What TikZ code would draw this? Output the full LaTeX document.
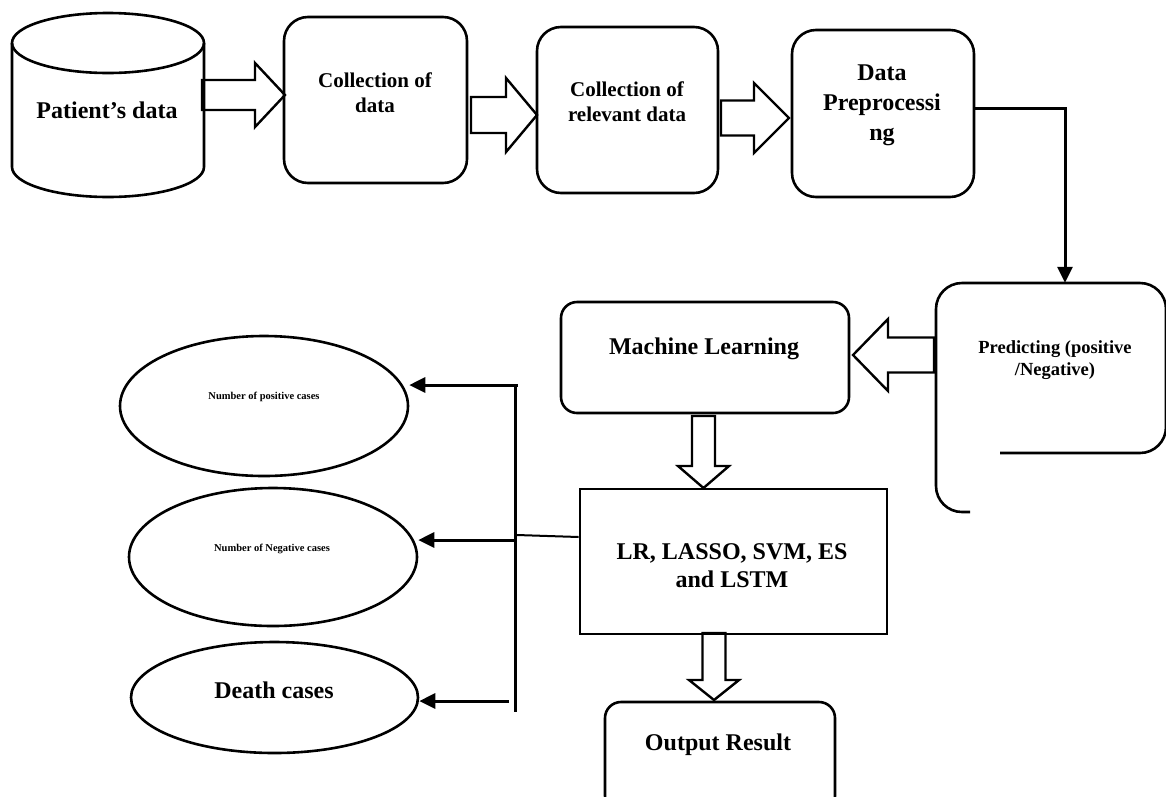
\documentclass[tikz,border=0pt]{standalone}
\usepackage{fontspec}
\setmainfont{Liberation Serif}
\usetikzlibrary{arrows.meta,shapes.geometric}

% hollow block arrows: tail, head base, tip, middle, shaft half width, head half width
\newcommand{\hollowh}[6]{\filldraw[blk] (#1,#4-#5) -- (#2,#4-#5) -- (#2,#4-#6) -- (#3,#4) -- (#2,#4+#6) -- (#2,#4+#5) -- (#1,#4+#5) -- cycle;}
\newcommand{\hollowv}[6]{\filldraw[blk] (#4-#5,#1) -- (#4-#5,#2) -- (#4-#6,#2) -- (#4,#3) -- (#4+#6,#2) -- (#4+#5,#2) -- (#4+#5,#1) -- cycle;}

\begin{document}
\begin{tikzpicture}[x=1pt, y=-1pt,
  box/.style={draw, line width=2.6pt, rounded corners=24pt},
  sqbox/.style={draw, line width=2.6pt},
  oval/.style={draw, ellipse, line width=2.6pt},
  blk/.style={draw, fill=white, line width=2.4pt},
  conn/.style={line width=3pt, -{Triangle[length=16pt,width=15pt]}},
  big/.style={font=\bfseries\fontsize{24}{30}\selectfont, align=center},
  mid/.style={font=\bfseries\fontsize{21}{25}\selectfont, align=center},
  tiny/.style={font=\bfseries\fontsize{10.5}{12}\selectfont}]
\useasboundingbox (0,0) rectangle (1166,796);

% block arrows
\hollowh{202}{255}{285}{95}{15}{32}
\hollowh{471}{506}{537}{115}{18}{37}
\hollowh{721}{754}{789}{118}{17.5}{35}
\hollowh{934}{888}{853}{355}{17.5}{36}
\hollowv{416}{466}{488}{703.5}{11.5}{25.5}
\hollowv{633}{680}{700}{714}{11.5}{25}

% patient's data
\draw[line width=2.6pt] (12,43) -- (12,167) arc[start angle=180, end angle=0, x radius=96, y radius=30] -- (204,43);
\draw[line width=2.6pt] (108,43) ellipse [x radius=96, y radius=30];
\node[big] (pat) at (107,110) {Patient’s data};

% top row
\node[box, minimum width=183, minimum height=166] (col) at (375.5,100) {};
\node[mid] (coltxt) at (375,93) {Collection of\\data};
\node[box, minimum width=181, minimum height=166] (rel) at (627.5,110) {};
\node[mid] (reltxt) at (627,102) {Collection of\\relevant data};
\node[box, minimum width=182, minimum height=167] (pre) at (883,113.5) {};
\node[big] (pretxt) at (882,105) {Data\\Preprocessi\\ng};

% predicting (outline partly cut in the source)
\node[minimum width=230, minimum height=229] (pred) at (1051,397.5) {};
\draw[line width=2.6pt, rounded corners=26pt] (970,512) -- (936,512) -- (936,283) -- (1166,283) -- (1166,453) -- (1000,453);
\node[font=\bfseries\fontsize{18.5}{22}\selectfont, align=center] (predtxt) at (1055,360) {Predicting (positive\\/Negative)};

% models
\node[box, rounded corners=16pt, minimum width=288, minimum height=111] (ml) at (705,357.5) {};
\node[big] (mltxt) at (704,349) {Machine Learning};
\node[sqbox, minimum width=307, minimum height=145] (lr) at (733.5,561.5) {};
\node[big, font=\bfseries\fontsize{24}{28}\selectfont] (lrtxt) at (732,566) {LR, LASSO, SVM, ES\\and LSTM};
\node[box, rounded corners=16pt, minimum width=230, minimum height=110] (out) at (720,757) {};
\node[big] (outtxt) at (718,745) {Output Result};

% outcomes
\node[oval, minimum width=288, minimum height=140] (pos) at (264,406) {};
\node[tiny] (postxt) at (264,397) {Number of positive cases};
\node[oval, minimum width=288, minimum height=138] (neg) at (273,557) {};
\node[tiny] (negtxt) at (272,549) {Number of Negative cases};
\node[oval, minimum width=287, minimum height=111] (dea) at (274.5,697.5) {};
\node[big] (deatxt) at (274,690) {Death cases};

% connectors
\coordinate (bend) at (1065,108);
\draw[conn] (pre.east |- bend) -- (bend) -- (bend |- pred.north);
\coordinate (bt) at (515,385);
\coordinate (bm) at (515,540);
\coordinate (bb) at (515,701);
\draw[line width=3pt] (bt) ++(3,0) -- (bt) -- (515,712);
\draw[conn] (bt) -- (bt -| pos.east);
\draw[conn] (bm) -- (bm -| neg.east);
\draw[conn] (bb) ++(-6,0) -- (bb -| dea.east);
\draw[line width=2pt] (517,535) -- (lr.west |- 0,537);
\end{tikzpicture}
\end{document}
